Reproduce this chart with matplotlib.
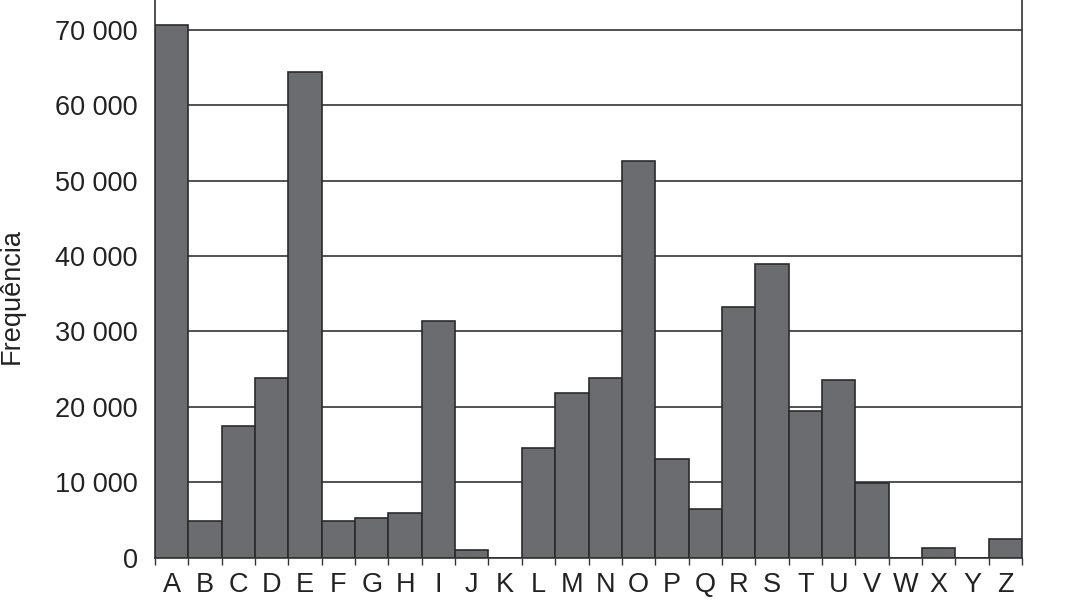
import matplotlib
matplotlib.use("Agg")
import matplotlib.pyplot as plt
import numpy as np
from matplotlib.ticker import FuncFormatter

plt.rcParams['font.family'] = ['Liberation Sans', 'DejaVu Sans']

letters = list("ABCDEFGHIJKLMNOPQRSTUVWXYZ")
freq = [70600, 4800, 17450, 23820, 64450, 4800, 5280, 5950, 31380, 1000,
        0, 14530, 21830, 23820, 52610, 13070, 6440, 33240, 38950, 19440,
        23550, 9850, 0, 1220, 0, 2410]
yticks = [0, 10000, 20000, 30000, 40000, 50000, 60000, 70000]

fig = plt.figure(figsize=(10.83, 6.11), dpi=100)
ax = fig.add_axes([155/1083, 1 - 557.5/611, 867/1083, 557.5/611])

x = np.arange(len(letters))
ax.bar(x, freq, width=1.0, align='edge', color='#6b6c70',
       edgecolor='#2b2b2b', linewidth=1.2, zorder=3)

ax.set_xlim(0, len(letters))
ax.set_ylim(0, 73980)

ax.set_yticks(yticks)
ax.yaxis.set_major_formatter(FuncFormatter(lambda v, p: f"{int(v):,}".replace(",", " ")))
ax.tick_params(axis='y', length=0, pad=12.5, labelsize=19.5, labelcolor='#222222')
for yv in yticks:
    ax.axhline(yv, color='#333333', linewidth=1.2, zorder=1)

ax.set_xticks(x + 0.5)
ax.set_xticklabels(letters)
ax.set_xticks(np.arange(len(letters) + 1), minor=True)
ax.tick_params(axis='x', which='major', length=0, pad=10.5, labelsize=19.5, labelcolor='#222222')
ax.tick_params(axis='x', which='minor', length=5, width=1.0, color='#333333', direction='out')

ax.spines['top'].set_visible(False)
for s in ['left', 'right', 'bottom']:
    ax.spines[s].set_color('#333333')
    ax.spines[s].set_linewidth(1.2)
    ax.spines[s].set_zorder(4)

fig.text(12/1083, 1 - 296/611, 'Frequência', rotation=90, va='center', ha='center',
         fontsize=19.5, color='#222222')

fig.savefig('out.png', dpi=100)
